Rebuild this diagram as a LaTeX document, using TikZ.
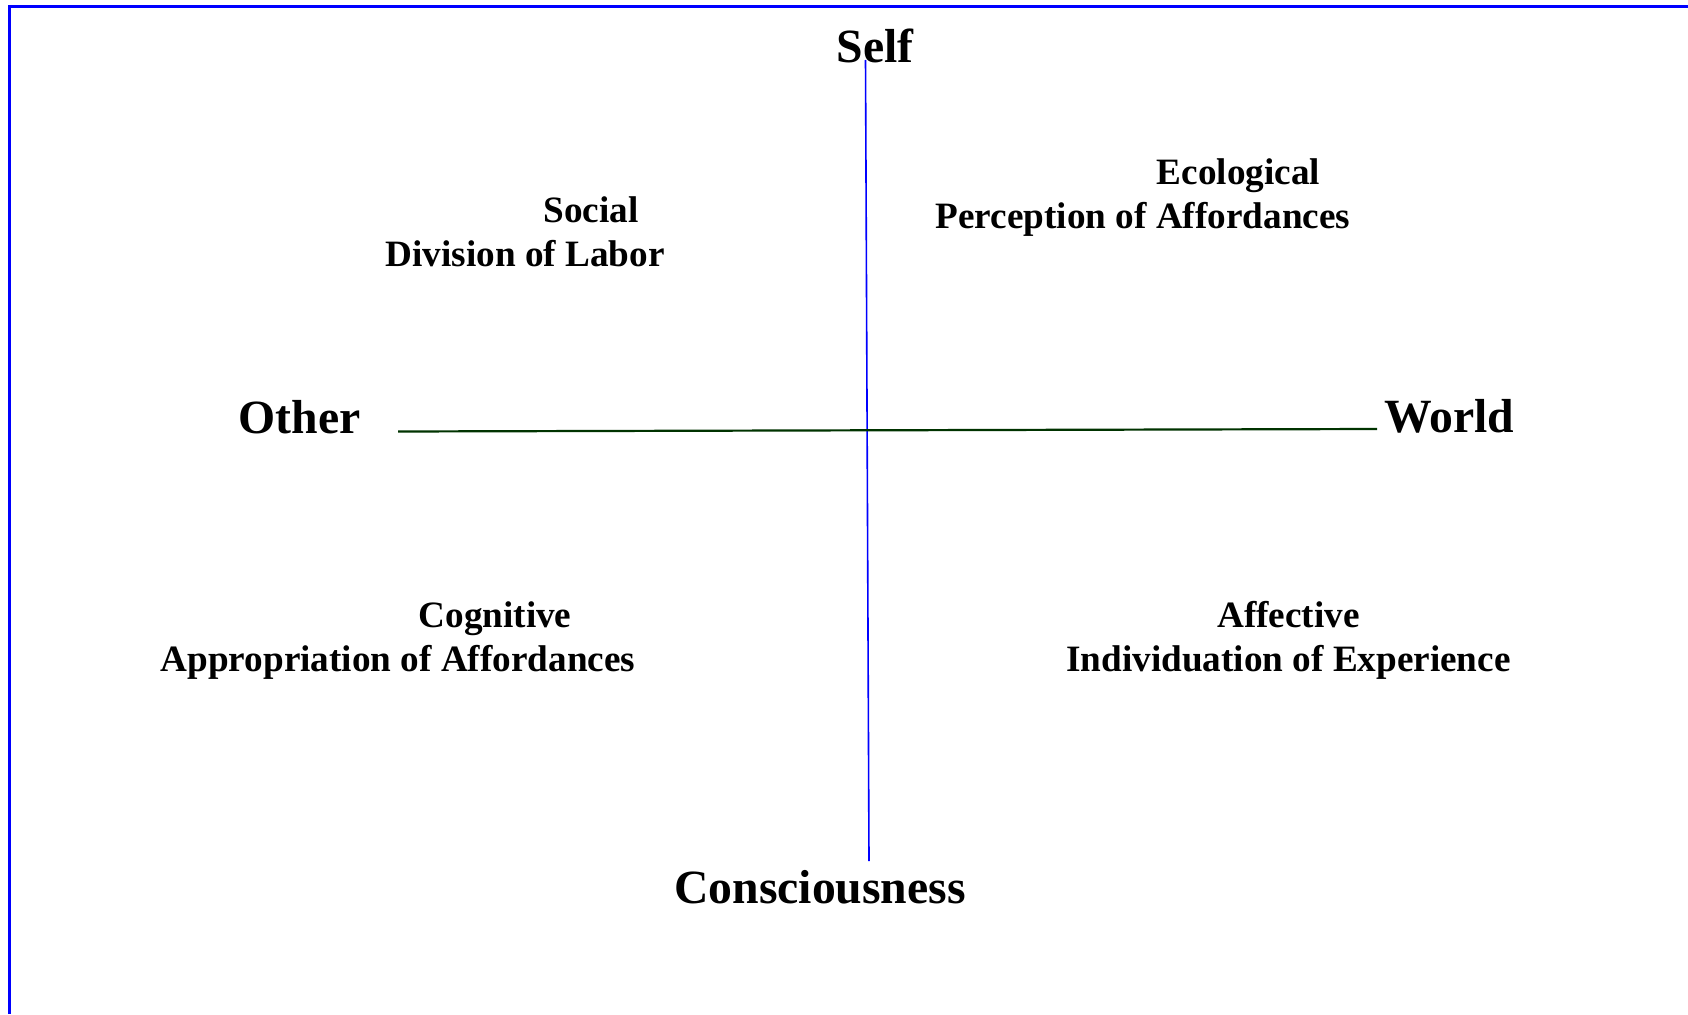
\documentclass[tikz,border=0pt]{standalone}
\usepackage{fontspec}
\setmainfont{Liberation Serif}
\definecolor{axisgreen}{RGB}{0,51,0}
\definecolor{framblue}{RGB}{0,0,255}
\tikzset{
  big/.style={inner sep=0pt, anchor=base, font=\bfseries\fontsize{47.7}{57}\selectfont},
  small/.style={inner sep=0pt, anchor=base, font=\bfseries\fontsize{37.2}{44}\selectfont},
  vaxis/.style={draw=framblue, line width=1.6pt},
  haxis/.style={draw=axisgreen, line width=2.2pt},
  frameline/.style={draw=framblue, line width=2.2pt}
}
\begin{document}
\begin{tikzpicture}[x=1pt,y=-1pt]
\useasboundingbox (0,0) rectangle (1688,1014);
% frame (only top and left edges visible)
\coordinate (fbl) at (9.5,1014);
\coordinate (ftl) at (9.5,6.5);
\coordinate (ftr) at (1688,6.5);
\draw[frameline] (fbl) -- (ftl) -- (ftr);
% axes
\coordinate (vtop) at (865.5,60);
\coordinate (vbot) at (869,861);
\coordinate (hleft) at (398,431.5);
\coordinate (hright) at (1377,429);
\draw[vaxis] (vtop) -- (vbot);
\draw[haxis] (hleft) -- (hright);
% pole labels
\node[big] (self) at (875,63) {Self};
\node[big] (other) at (299.5,433) {Other};
\node[big] (world) at (1449,432) {World};
\node[big] (consc) at (820,903) {Consciousness};
% quadrant labels
\node[small] (soc1) at (591,222) {Social};
\node[small] (soc2) at (525,266) {Division of Labor};
\node[small] (eco1) at (1238.5,184) {Ecological};
\node[small] (eco2) at (1143,228) {Perception of Affordances};
\node[small] (cog1) at (495,627) {Cognitive};
\node[small] (cog2) at (398,671) {Appropriation of Affordances};
\node[small] (aff1) at (1288.5,627) {Affective};
\node[small] (aff2) at (1288.5,671) {Individuation of Experience};
\end{tikzpicture}
\end{document}
